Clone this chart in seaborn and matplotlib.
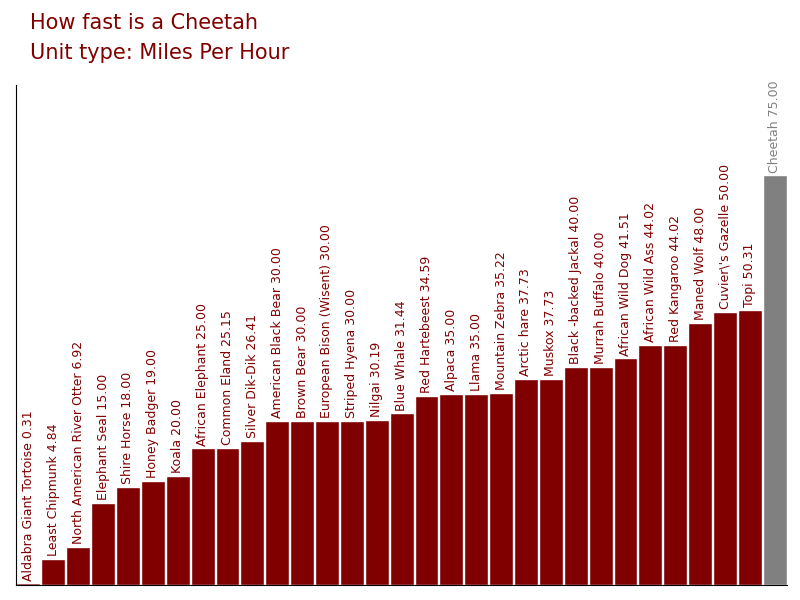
import matplotlib
matplotlib.use("Agg")
import matplotlib.pyplot as plt
import seaborn as sns
import pandas as pd

animals = ["Aldabra Giant Tortoise","Least Chipmunk","North American River Otter","Elephant Seal",
 "Shire Horse","Honey Badger","Koala","African Elephant","Common Eland","Silver Dik-Dik",
 "American Black Bear","Brown Bear","European Bison (Wisent)","Striped Hyena","Nilgai",
 "Blue Whale","Red Hartebeest","Alpaca","Llama","Mountain Zebra","Arctic hare","Muskox",
 "Black -backed Jackal","Murrah Buffalo","African Wild Dog","African Wild Ass","Red Kangaroo",
 "Maned Wolf","Cuvier\\'s Gazelle","Topi","Cheetah"]
speeds = [0.31,4.84,6.92,15.00,18.00,19.00,20.00,25.00,25.15,26.41,30.00,30.00,30.00,30.00,30.19,
 31.44,34.59,35.00,35.00,35.22,37.73,37.73,40.00,40.00,41.51,44.02,44.02,48.00,50.00,50.31,75.00]

df = pd.DataFrame({"animal": animals, "speed": speeds})
colors = ["#800000"] * (len(animals) - 1) + ["#808080"]

sns.set_style("white")
fig = plt.figure(figsize=(8, 6), dpi=100)
ax = fig.add_axes([0.02, 0.025, 0.964, 0.833])
sns.barplot(data=df, x="animal", y="speed", hue="animal", palette=colors, legend=False,
            width=0.96, saturation=1, ax=ax)
ax.set_ylim(0, 91.5)
ax.set_xlim(-0.5, len(animals) - 0.5)
ax.set_xticks([]); ax.set_yticks([])
ax.set_xlabel(""); ax.set_ylabel("")
for s in ["top", "right"]:
    ax.spines[s].set_visible(False)
for s in ["left", "bottom"]:
    ax.spines[s].set_color("black"); ax.spines[s].set_linewidth(0.8)
for i, (a, v) in enumerate(zip(animals, speeds)):
    ax.text(i, v + 0.5, f"{a} {v:.2f}", rotation=90, ha="center", va="bottom",
            fontsize=9, color=colors[i])
fig.text(0.038, 0.962, "How fast is a Cheetah", fontsize=15, color="#800000", va="center")
fig.text(0.038, 0.912, "Unit type: Miles Per Hour", fontsize=15, color="#800000", va="center")
fig.savefig("out.png", dpi=100)
